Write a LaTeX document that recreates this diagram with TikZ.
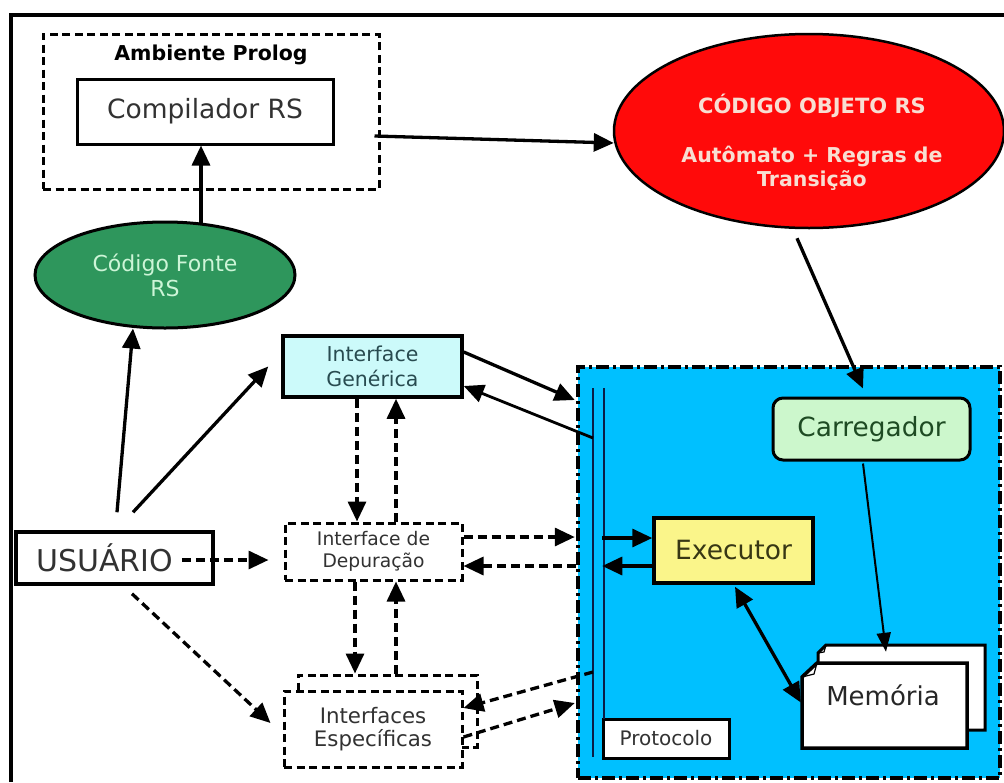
\documentclass[tikz,border=0pt]{standalone}
\usepackage{fontspec}
\setmainfont{DejaVu Sans}
\usetikzlibrary{arrows.meta,shapes.geometric,calc}
\definecolor{bluebg}{RGB}{0,192,255}
\definecolor{dgreen}{RGB}{46,150,92}
\definecolor{lgreentxt}{RGB}{205,245,215}
\definecolor{redfill}{RGB}{255,10,10}
\definecolor{redtxt}{RGB}{248,222,210}
\definecolor{lcyan}{RGB}{204,250,250}
\definecolor{lgreen}{RGB}{204,247,204}
\definecolor{lyellow}{RGB}{250,245,138}
\definecolor{txtgray}{RGB}{50,50,50}
\definecolor{tealtxt}{RGB}{40,75,80}
\definecolor{carrtxt}{RGB}{30,75,35}
\definecolor{exectxt}{RGB}{55,55,20}
\definecolor{busline}{RGB}{10,30,70}
\begin{document}
\begin{tikzpicture}[x=1pt,y=-1pt,
  conn/.style={line width=3.3pt,-{Triangle[length=20pt,width=18pt]}},
  dconn/.style={line width=3.3pt,dash pattern=on 9pt off 5pt,-{Triangle[length=20pt,width=18pt]}},
  box/.style={draw,line width=3pt,inner sep=0pt,align=center},
  dbox/.style={box,dash pattern=on 8pt off 4.5pt},
]
\useasboundingbox (0,0) rectangle (1004,782);
\fill[white] (0,0) rectangle (1004,782);
% outer frame
\draw[line width=4pt] (11,782) -- (11,15) -- (1004,15);

% blue system box
\node[draw,fill=bluebg,line width=4.5pt,dash pattern=on 13pt off 4pt on 3pt off 4pt,
  minimum width=422,minimum height=411,inner sep=0pt] (blue) at (789,572.5) {};

% Ambiente Prolog
\node[dbox,minimum width=336,minimum height=155] (amb) at (211,111.5) {};
\node[font=\fontsize{20.5}{24}\selectfont\bfseries] (ambt) at (211,55) {Ambiente Prolog};
\node[box,minimum width=256,minimum height=65,text=txtgray,font=\fontsize{26.5}{30}\selectfont] (comp) at (205,111.5) {Compilador RS};

% Codigo Fonte
\node[draw,ellipse,line width=3pt,fill=dgreen,minimum width=260,minimum height=106,inner sep=0pt,
  text=lgreentxt,align=center,font=\fontsize{22}{25}\selectfont] (cf) at (165,275) {Código Fonte\\RS};

% Codigo Objeto
\node[draw,ellipse,line width=2.5pt,fill=redfill,minimum width=390,minimum height=194,inner sep=0pt] (red) at (809,131) {};
\node[text=redtxt,font=\fontsize{21}{24}\selectfont\bfseries] (redt1) at (812,106) {CÓDIGO OBJETO RS};
\node[text=redtxt,align=center,font=\fontsize{20.5}{24}\selectfont\bfseries] (redt2) at (812,168) {Autômato + Regras de\\Transição};

% interfaces
\node[box,line width=3.5pt,fill=lcyan,minimum width=179,minimum height=61,text=tealtxt,
  font=\fontsize{20.5}{25}\selectfont] (ig) at (372.5,366.5) {Interface\\Genérica};
\node[dbox,fill=white,minimum width=177,minimum height=57,text=txtgray,
  font=\fontsize{18.7}{22}\selectfont] (dep) at (373.5,551.5) {Interface de\\Depuração};
\node[dbox,fill=white,minimum width=179,minimum height=72] (espB) at (387.5,711) {};
\node[dbox,fill=white,minimum width=178,minimum height=76,text=txtgray,
  font=\fontsize{21.3}{25}\selectfont] (espF) at (373,729) {\raisebox{3pt}{\shortstack{Interfaces\\[2pt]Específicas}}};

% usuario
\node[box,line width=3.5pt,fill=white,minimum width=197,minimum height=52,text=txtgray,
  font=\fontsize{30}{34}\selectfont] (usr) at (114.5,558) {\hspace*{-20pt}USUÁRIO};

% inside blue
\node[box,rounded corners=10pt,fill=lgreen,minimum width=197,minimum height=62,text=carrtxt,
  font=\fontsize{26.4}{30}\selectfont] (carr) at (871.5,429) {Carregador};
\node[box,line width=3.5pt,fill=lyellow,minimum width=159,minimum height=65,text=exectxt,
  font=\fontsize{26.5}{30}\selectfont] (exec) at (733.5,550.5) {Executor};
\node[box,fill=white,minimum width=126,minimum height=39,text=txtgray,
  font=\fontsize{20}{22}\selectfont] (prot) at (666,738.5) {Protocolo};

% memoria pages
\node[minimum width=167,minimum height=85,inner sep=0pt] (memB) at (901.5,687.5) {};
\node[minimum width=165,minimum height=85,inner sep=0pt] (memF) at (884.5,705.5) {};
\draw[line width=3pt,fill=white] (826,645) -- (985,645) -- (985,730) -- (818,730) -- (818,653) -- cycle;
\draw[line width=1.2pt] (818,653) -- (824,652) -- (826,645);
\draw[line width=3.5pt,fill=white] (817,663) -- (967,663) -- (967,748) -- (802,748) -- (802,677) -- cycle;
\draw[line width=1.2pt] (802,677) -- (814,674) -- (817,663);
\node[text=black!85,font=\fontsize{26}{30}\selectfont] (memt) at (883,695) {Memória};

% bus lines
\coordinate (busLt) at (593,388);
\coordinate (busLb) at (593,757);
\coordinate (busRt) at (604,388);
\coordinate (busRb) at (604,719);
\draw[line width=2.5pt,busline] (busLt) -- (busLb);
\draw[line width=2.5pt,busline] (busRt) -- (busRb);

% connectors
\draw[conn] ($(cf.north)+(36,2)$) -- ($(comp.south)+(-4,0)$);
\draw[conn] ($(amb.east)+(-6,24.5)$) -- ($(red.west)+(1,12)$);
\draw[conn] ($(red.south)+(-12,9)$) -- ($(carr.north)+(-8.5,-8)$);
\draw[line width=2pt,-{Triangle[length=19pt,width=14pt]}] ($(carr.south)+(-8.5,2)$) -- ($(memB.north)+(-15.5,7)$);
\draw[line width=3.3pt,{Triangle[length=20pt,width=18pt]}-{Triangle[length=20pt,width=18pt]}] ($(exec.south)+(1.5,2)$) -- ($(memF.west)+(-1,-3)$);

\draw[conn] ($(exec.west)+(-50,-12.5)$) -- ($(exec.west)+(0,-12.5)$);
\draw[conn] ($(exec.west)+(0,15.5)$) -- ($(exec.west)+(-50,15.5)$);

\draw[conn] ($(ig.east)+(0,-14.5)$) -- ($(blue.west)+(-1,-172.5)$);
\draw[conn,line width=2.8pt] ($(busLt)+(0,50)$) -- ($(ig.east)+(0,19.5)$);

\draw[dconn] ($(dep.east)+(0,-14.5)$) -- ($(blue.west)+(-1,-35.5)$);
\draw[dconn] ($(blue.west)+(0,-6.5)$) -- ($(dep.east)+(0,14.5)$);

\draw[dconn] ($(busLb)+(0,-85)$) -- ($(espF.east)+(0,-21)$);
\draw[dconn] ($(espF.east)+(0,8)$) -- ($(blue.west)+(-1,130.5)$);

\draw[conn] ($(usr.north)+(2.5,-18)$) -- ($(cf.south)+(-32,-1)$);
\draw[conn] ($(usr.north)+(18.5,-18)$) -- ($(ig.west)+(-13,0)$);
\draw[dconn] ($(usr.east)+(-33,2)$) -- ($(dep.west)+(-15,8.5)$);
\draw[dconn] ($(usr.south)+(17.5,8)$) -- ($(espF.west)+(-12,-6)$);

\draw[dconn] ($(ig.south)+(-15.5,0)$) -- ($(dep.north)+(-16.5,0)$);
\draw[dconn] ($(dep.north)+(22.5,0)$) -- ($(ig.south)+(23.5,0)$);
\draw[dconn] ($(dep.south)+(-18.5,0)$) -- ($(espB.north)+(-32.5,0)$);
\draw[dconn] ($(espB.north)+(8.5,0)$) -- ($(dep.south)+(22.5,0)$);
\end{tikzpicture}
\end{document}
